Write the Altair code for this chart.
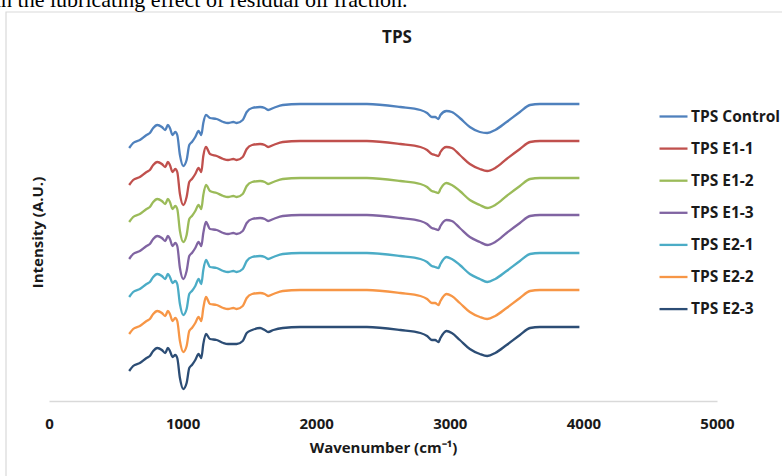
import altair as alt
import pandas as pd

# ---------------- data ----------------
wavenumber = [600, 630, 680, 730, 755, 780, 810, 845, 870, 890,
              905, 925, 945, 960, 980, 1005, 1030, 1050, 1070, 1095,
              1120, 1140, 1155, 1175, 1205, 1255, 1305, 1340, 1380, 1405,
              1450, 1480, 1520, 1580, 1615, 1640, 1680, 1750, 1880, 2130,
              2380, 2630, 2780, 2830, 2865, 2890, 2915, 2930, 2975, 3015,
              3075, 3150, 3225, 3280, 3340, 3425, 3525, 3600, 3675, 3850,
              3970]

tps_control = [253, 258, 261, 266, 268, 273, 276, 274, 271, 276,
               273, 266, 269, 266, 246, 235, 241, 256, 259, 264,
               270, 266, 278, 286, 283, 282, 279, 278, 279, 278,
               281, 289, 293, 294, 293, 291, 293, 296, 297, 297,
               297, 294, 291, 288, 284, 284, 282, 286, 290, 289,
               283, 274, 269, 268, 271, 279, 289, 296, 297, 297,
               297]
tps_e1_1 = [216, 221, 224, 229, 231, 236, 239, 237, 234, 239,
            236, 229, 232, 229, 207, 196, 204, 219, 222, 227,
            233, 229, 245, 254, 247, 245, 242, 241, 242, 241,
            244, 252, 256, 257, 256, 254, 256, 259, 260, 260,
            260, 257, 254, 251, 247, 246, 245, 249, 254, 253,
            246, 237, 232, 230, 233, 242, 252, 259, 260, 260,
            260]
tps_e1_2 = [179, 184, 187, 192, 194, 199, 202, 200, 197, 202,
            199, 192, 195, 192, 170, 159, 166, 182, 185, 190,
            196, 192, 206, 216, 210, 208, 205, 204, 205, 204,
            207, 215, 219, 220, 219, 217, 219, 222, 223, 223,
            223, 220, 217, 214, 210, 209, 208, 212, 218, 216,
            210, 201, 196, 193, 196, 205, 215, 222, 223, 223,
            223]
tps_e1_3 = [142, 147, 150, 155, 157, 162, 165, 163, 160, 165,
            162, 155, 158, 155, 133, 122, 130, 145, 148, 153,
            159, 155, 168, 179, 172, 171, 168, 167, 168, 167,
            170, 178, 182, 183, 182, 180, 182, 185, 186, 186,
            186, 183, 180, 177, 173, 172, 171, 175, 181, 180,
            173, 164, 159, 156, 159, 168, 178, 185, 186, 186,
            186]
tps_e2_1 = [104, 109, 112, 117, 119, 124, 127, 125, 122, 127,
            124, 118, 120, 117, 97, 86, 92, 107, 110, 115,
            122, 117, 131, 141, 134, 133, 130, 129, 130, 129,
            132, 140, 144, 145, 144, 142, 144, 147, 148, 148,
            148, 145, 142, 139, 135, 134, 133, 137, 144, 142,
            136, 127, 122, 119, 122, 130, 140, 147, 148, 148,
            148]
tps_e2_2 = [67, 72, 75, 80, 82, 87, 90, 88, 85, 90,
            87, 80, 83, 80, 60, 49, 55, 70, 73, 78,
            84, 80, 93, 104, 97, 96, 93, 92, 93, 92,
            95, 103, 107, 108, 107, 105, 107, 110, 111, 111,
            111, 108, 105, 102, 98, 98, 96, 100, 107, 105,
            98, 89, 84, 82, 85, 93, 103, 110, 111, 111,
            111]
tps_e2_3 = [30, 35, 38, 43, 45, 50, 53, 51, 48, 53,
            50, 44, 46, 43, 23, 12, 18, 33, 36, 41,
            47, 43, 57, 67, 62, 61, 58, 57, 57, 57,
            60, 68, 71, 73, 71, 69, 71, 73, 74, 74,
            74, 71, 68, 65, 61, 61, 59, 63, 70, 68,
            61, 52, 47, 45, 48, 56, 66, 73, 74, 74,
            74]

series_names = ["TPS Control", "TPS E1-1", "TPS E1-2", "TPS E1-3",
                "TPS E2-1", "TPS E2-2", "TPS E2-3"]
series_values = [tps_control, tps_e1_1, tps_e1_2, tps_e1_3,
                 tps_e2_1, tps_e2_2, tps_e2_3]
series_colors = ["#4F81BD", "#C0504D", "#9BBB59", "#8064A2",
                 "#4BACC6", "#F79646", "#2C4D75"]
x_ticks = [0, 1000, 2000, 3000, 4000, 5000]
chart_title = ["TPS"]
x_title = "Wavenumber (cm\u207b\u00b9)"
y_title = "Intensity (A.U.)"
caption_text = ["in the lubricating effect of residual oil fraction."]

# ---------------- build table ----------------
rows = []
for name, vals in zip(series_names, series_values):
    assert len(vals) == len(wavenumber), name
    for w, v in zip(wavenumber, vals):
        rows.append({"series": name, "wavenumber": w, "intensity": v})
df = pd.DataFrame(rows)

FONT = "Open Sans"
TXT = "#1a1a1a"
PW, PH = 668, 341
LEFT, TOP = 49, 60

lines = alt.Chart(df).mark_line(strokeWidth=2.3, interpolate="monotone").encode(
    x=alt.X("wavenumber:Q",
            scale=alt.Scale(domain=[0, 5000], nice=False, zero=False),
            axis=alt.Axis(values=x_ticks, title=x_title, format="d",
                          grid=False, ticks=False, tickSize=0,
                          domainColor="#D9D9D9", domainWidth=1.5,
                          labelFont=FONT, labelFontSize=15, labelFontWeight="bold",
                          labelColor=TXT, labelPadding=15, labelFlush=False,
                          labelOverlap=False,
                          titleFont=FONT, titleFontSize=15, titleFontWeight="bold",
                          titleColor=TXT, titleY=46, titleBaseline="middle")),
    y=alt.Y("intensity:Q",
            scale=alt.Scale(domain=[0, PH], nice=False, zero=False),
            axis=alt.Axis(title=y_title, labels=False, ticks=False, domain=False,
                          grid=False, titleFont=FONT, titleFontSize=15,
                          titleFontWeight="bold", titleColor=TXT,
                          titleX=-12, titleY=172, titleAngle=-90,
                          titleAlign="center", titleBaseline="middle")),
    color=alt.Color("series:N",
                    scale=alt.Scale(domain=series_names, range=series_colors),
                    legend=alt.Legend(title=None, orient="none",
                                      legendX=609, legendY=41,
                                      symbolType="stroke", symbolSize=784,
                                      symbolStrokeWidth=2.3, labelOffset=2,
                                      rowPadding=8.1, padding=0,
                                      labelFont=FONT, labelFontSize=15.5,
                                      labelFontWeight="bold", labelColor=TXT)),
    detail="series:N",
)

frame_df = pd.DataFrame({"k": [0]})
frame = alt.Chart(frame_df).mark_rect(fillOpacity=0, fill="white",
                                      stroke="#D9D9D9", strokeWidth=1.2).encode(
    x=alt.value(6 - LEFT), x2=alt.value(800 - LEFT),
    y=alt.value(12 - TOP), y2=alt.value(500 - TOP),
)

caption = alt.Chart(pd.DataFrame({"t": caption_text})).mark_text(
    align="left", baseline="alphabetic", font="Liberation Serif",
    fontSize=22, color="black").encode(
    text="t:N", x=alt.value(-5 - LEFT), y=alt.value(7 - TOP),
)

title = alt.Chart(pd.DataFrame({"t": chart_title})).mark_text(
    align="center", baseline="alphabetic", font=FONT, fontSize=17,
    fontWeight="bold", color=TXT).encode(
    text="t:N", x=alt.value(397 - LEFT), y=alt.value(43 - TOP),
)

chart = alt.layer(frame, lines, caption, title).properties(
    width=PW, height=PH,
    autosize=alt.AutoSizeParams(type="none"),
    padding={"left": LEFT, "top": TOP, "right": 782 - LEFT - PW,
             "bottom": 476 - TOP - PH},
).configure_view(stroke=None)

chart.save("out.html", embed_options={"renderer": "svg", "actions": False})
